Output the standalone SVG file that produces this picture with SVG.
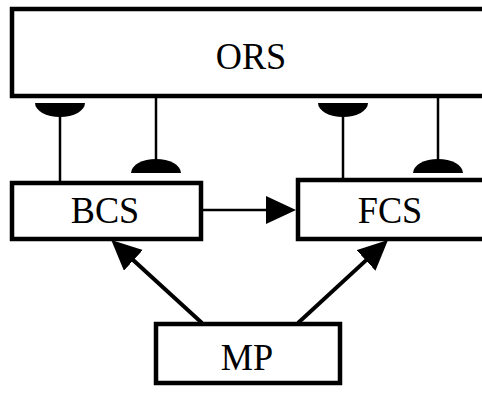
<svg xmlns="http://www.w3.org/2000/svg" width="482" height="394" viewBox="0 0 482 394">
<style>
.box{fill:#fff;stroke:#000;stroke-width:4.5}
.lbl{font-family:"Liberation Serif","Times New Roman",serif;font-size:39px;fill:#000;text-anchor:middle}
.ln{stroke:#000;stroke-width:2.5;fill:none}
.dg{stroke:#000;stroke-width:4;fill:none}
.cup{fill:#000}
</style>
<defs>
<marker id="ah" markerUnits="userSpaceOnUse" markerWidth="32" markerHeight="30" refX="10" refY="14" orient="auto" viewBox="0 0 32 30">
<path d="M0,0 L30,14 L0,28 Z" fill="#000"/>
</marker>
</defs>
<rect width="482" height="394" fill="#fff"/>
<g id="connectors">
<line class="ln" x1="60" y1="110" x2="60" y2="182"/>
<path class="cup" d="M35,103 h50 a25,14 0 0 1 -50,0 Z"/>
<line class="ln" x1="156" y1="97" x2="156" y2="162"/>
<path class="cup" d="M131,173 a25,14 0 0 1 50,0 Z"/>
<line class="ln" x1="343" y1="110" x2="343" y2="180"/>
<path class="cup" d="M318,103 h50 a25,14 0 0 1 -50,0 Z"/>
<line class="ln" x1="438" y1="97" x2="438" y2="162"/>
<path class="cup" d="M413,173 a25,14 0 0 1 50,0 Z"/>
<line class="ln" x1="203" y1="210" x2="276" y2="210" marker-end="url(#ah)"/>
<line class="dg" x1="202" y1="323" x2="126" y2="253.6" marker-end="url(#ah)"/>
<line class="dg" x1="298" y1="323" x2="373.3" y2="253.6" marker-end="url(#ah)"/>
</g>
<g id="ORS">
<rect class="box" x="12" y="9" width="480" height="87"/>
<text class="lbl" transform="translate(251,69) scale(0.93,1)">ORS</text>
</g>
<g id="BCS">
<rect class="box" x="12" y="183" width="189" height="56"/>
<text class="lbl" transform="translate(105,223) scale(0.93,1)">BCS</text>
</g>
<g id="FCS">
<rect class="box" x="298" y="180" width="194" height="59"/>
<text class="lbl" transform="translate(390,223) scale(0.93,1)">FCS</text>
</g>
<g id="MP">
<rect class="box" x="156" y="324" width="184" height="59"/>
<text class="lbl" transform="translate(247,370) scale(0.93,1)">MP</text>
</g>
</svg>
